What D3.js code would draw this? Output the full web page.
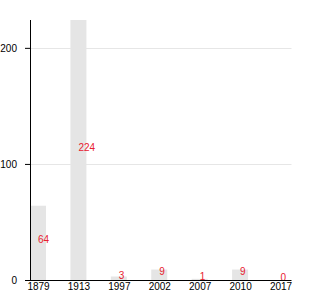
<!DOCTYPE html>
<html><head><meta charset="utf-8">
<script src="https://cdn.jsdelivr.net/npm/d3@7"></script>
<style>body{margin:0;background:#fff}svg{display:block;font-family:"Liberation Sans",Arial,sans-serif}</style>
</head><body>
<svg id="c" width="330" height="300"></svg>
<script>
const categories = ["1879","1913","1997","2002","2007","2010","2017"];
const values = [64,224,3,9,1,9,0];
const yTicks = [0,100,200];

(function(){
const svg = d3.select("#c");
const mLeft = 30, mRight = 291.5, mTop = 20, mBottom = 280;
const x = d3.scalePoint().domain(categories).range([38, 280.5]);
const y = d3.scaleLinear().domain([0, 224]).range([mBottom, mTop]);
const barW = 16;

// gridlines
svg.append("g").selectAll("line").data(yTicks.filter(d=>d>0)).join("line")
  .attr("x1", mLeft).attr("x2", mRight)
  .attr("y1", d=>Math.round(y(d))+0.5).attr("y2", d=>Math.round(y(d))+0.5)
  .attr("stroke", "#e6e6e6");

// bars
svg.append("g").selectAll("rect").data(values).join("rect")
  .attr("x", (d,i)=>x(categories[i]) - barW/2)
  .attr("width", barW)
  .attr("y", d=>y(d))
  .attr("height", d=>mBottom - y(d))
  .attr("fill", "#e5e5e5");

// value labels
svg.append("g").selectAll("text").data(values).join("text")
  .attr("x", (d,i)=>x(categories[i]))
  .attr("y", d=>y(d/2)+0.5)
  .attr("fill", "#e8202f")
  .attr("font-size", 10)
  .text(d=>d);

// y axis
const ya = svg.append("g").attr("transform", `translate(${mLeft},0)`)
  .call(d3.axisLeft(y).tickValues(yTicks).tickSize(5).tickPadding(8).tickSizeOuter(0));
ya.selectAll("text").attr("font-size", 10).attr("font-family", null).attr("fill", "#000");
ya.select(".domain").attr("d", `M0.5,${mTop}V${mBottom}`);

// x axis
const xa = svg.append("g").attr("transform", `translate(0,${mBottom})`)
  .call(d3.axisBottom(x).tickSize(0).tickPadding(3));
xa.selectAll("text").attr("font-size", 10).attr("font-family", null).attr("fill", "#000");
xa.select(".domain").attr("d", `M${mLeft-5},0.5H${mRight}`);
})();
</script>
</body></html>
